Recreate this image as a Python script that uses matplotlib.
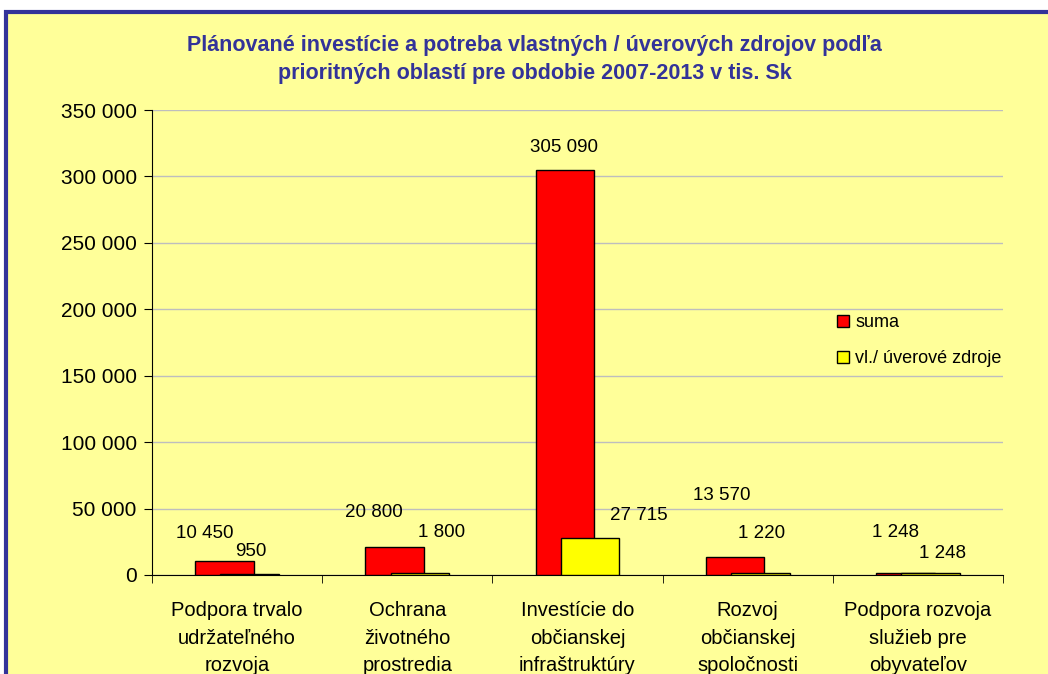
import matplotlib
matplotlib.use("Agg")
from matplotlib import pyplot as plt
from matplotlib.patches import Rectangle
import numpy as np

categories = ["Podpora trvalo\nudržateľného\nrozvoja",
              "Ochrana\nživotného\nprostredia",
              "Investície do\nobčianskej\ninfraštruktúry",
              "Rozvoj\nobčianskej\nspoločnosti",
              "Podpora rozvoja\nslužieb pre\nobyvateľov"]
suma = [10450, 20800, 305090, 13570, 1248]
zdroje = [950, 1800, 27715, 1220, 1248]
series_names = ["suma", "vl./ úverové zdroje"]

# Excel put the data labels in odd places, offsets in pixels from bar top
suma_offsets = [(-20, 28), (-21, 35), (-1, 22), (-13, 61), (-10, 41)]
zdroje_offsets = [(1, 22), (22, 40), (49, 23), (1, 40), (12, 20)]

BG = "#FFFF99"
BLUE = "#333399"

plt.rcParams["font.family"] = ["Liberation Sans", "DejaVu Sans"]


def fmt(v):
    return f"{v:,}".replace(",", " ")


fig = plt.figure(figsize=(10.48, 6.74), dpi=100, facecolor="white")
fig.patches.append(Rectangle((6 / 1048, -0.1), 1.2, 1.1 - 12 / 674,
                             transform=fig.transFigure, facecolor=BG,
                             edgecolor=BLUE, linewidth=3, zorder=-10))

ax = fig.add_axes([152 / 1048, 1 - 575 / 674, 851 / 1048, 465 / 674])
ax.set_zorder(2)
ax.patch.set_alpha(0)

x = np.arange(len(categories))
w = 0.345
off = 0.074
ax.bar(x - off, suma, w, color="#FF0000", edgecolor="black", linewidth=1,
       label=series_names[0], zorder=3)
ax.bar(x + off, zdroje, w, color="#FFFF00", edgecolor="black", linewidth=1,
       label=series_names[1], zorder=4)

for i in range(len(categories)):
    dx, dy = suma_offsets[i]
    ax.annotate(fmt(suma[i]), (x[i] - off, suma[i]), xytext=(dx, dy),
                textcoords="offset pixels", ha="center", va="center",
                fontsize=13.5, zorder=5)
    dx, dy = zdroje_offsets[i]
    ax.annotate(fmt(zdroje[i]), (x[i] + off, zdroje[i]), xytext=(dx, dy),
                textcoords="offset pixels", ha="center", va="center",
                fontsize=13.5, zorder=5)

ax.set_xlim(-0.5, len(categories) - 0.5)
ax.set_ylim(0, 350000)
ax.set_yticks(np.arange(0, 350001, 50000))
ax.set_yticklabels([fmt(v) for v in np.arange(0, 350001, 50000)], fontsize=15)
ax.yaxis.grid(True, color="#BEBEBE", linewidth=1, zorder=0)
ax.set_axisbelow(True)

ax.set_xticks(x)
ax.set_xticklabels(categories, fontsize=14.5, linespacing=1.55)
ax.set_xticks(np.arange(-0.5, len(categories)), minor=True)
ax.tick_params(axis="x", which="major", length=0, pad=19)
ax.tick_params(axis="x", which="minor", length=6, color="black", direction="out")
ax.tick_params(axis="y", length=6, color="black", pad=5)

for s in ["top", "right"]:
    ax.spines[s].set_visible(False)
ax.spines["left"].set_color("black")
ax.spines["bottom"].set_color("black")

ax.legend(loc="upper left", bbox_to_anchor=(828 / 1048, 1 - 305 / 674),
          bbox_transform=fig.transFigure, frameon=False, fontsize=13,
          handlelength=0.65, handleheight=0.65, handletextpad=0.35,
          labelspacing=1.05, borderpad=0)

fig.text(0.51, 1 - 45 / 674, "Plánované investície a potreba vlastných / úverových zdrojov podľa",
         ha="center", va="center", fontsize=15.5, fontweight="bold", color=BLUE)
fig.text(0.51, 1 - 73 / 674, "prioritných oblastí pre obdobie 2007-2013 v tis. Sk",
         ha="center", va="center", fontsize=15.5, fontweight="bold", color=BLUE)

fig.savefig("out.png", dpi=100, facecolor=fig.get_facecolor())
